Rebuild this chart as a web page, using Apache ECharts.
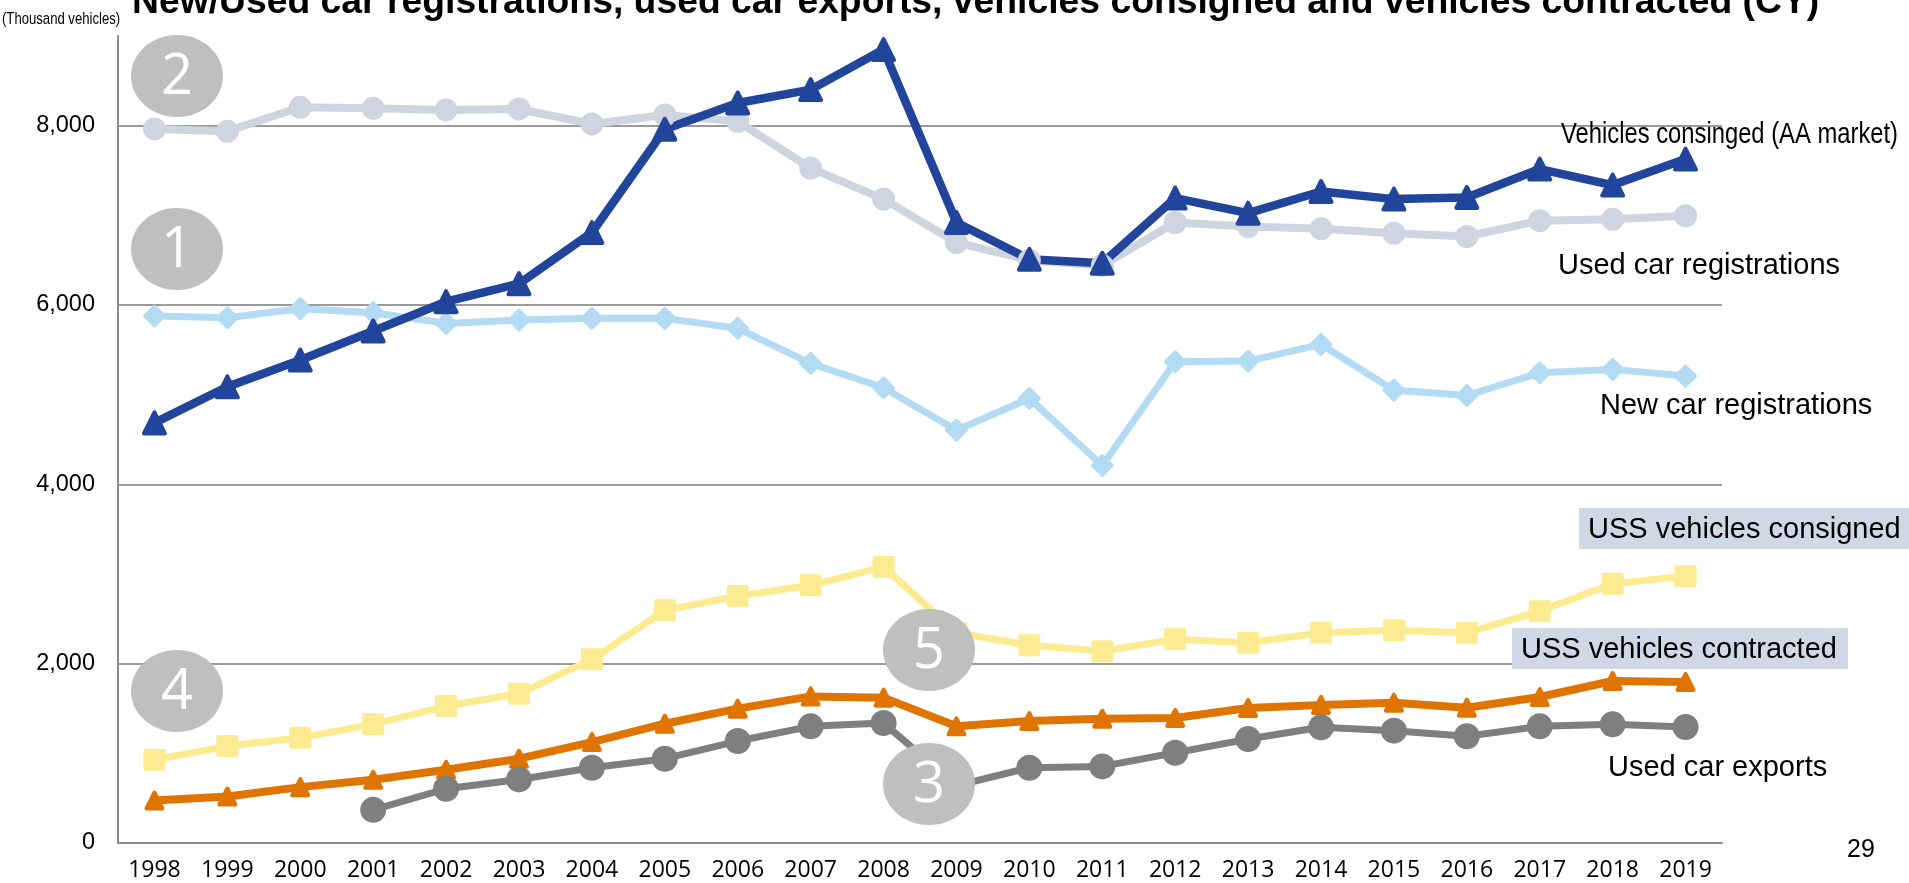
<!DOCTYPE html>
<html>
<head>
<meta charset="utf-8">
<title>New/Used car registrations</title>
<script src="https://cdn.jsdelivr.net/npm/echarts@6/dist/echarts.min.js"></script>
<style>
html, body { margin: 0; padding: 0; background: #fff; }
#chart { width: 1909px; height: 883px; }
</style>
</head>
<body>
<div id="chart"></div>
<script>
// thousand vehicles, calendar years
var years = ['1998', '1999', '2000', '2001', '2002', '2003', '2004', '2005', '2006', '2007', '2008',
	'2009', '2010', '2011', '2012', '2013', '2014', '2015', '2016', '2017', '2018', '2019'];

var aaConsigned = [4685, 5088, 5386, 5710, 6037, 6238, 6808, 7960, 8253, 8402, 8849,
	6920, 6510, 6466, 7192, 7024, 7266, 7181, 7199, 7516, 7337, 7628];
var usedRegistrations = [7963, 7937, 8205, 8194, 8175, 8186, 8019, 8119, 8048, 7527, 7181,
	6697, 6500, 6440, 6920, 6875, 6850, 6800, 6764, 6940, 6955, 6995];
var newRegistrations = [5877, 5858, 5959, 5914, 5795, 5832, 5851, 5851, 5740, 5349, 5077,
	4604, 4958, 4210, 5367, 5375, 5560, 5051, 4991, 5244, 5282, 5207];
var ussConsigned = [928, 1081, 1174, 1323, 1527, 1665, 2048, 2595, 2755, 2874, 3079,
	2344, 2205, 2138, 2272, 2234, 2345, 2372, 2346, 2584, 2892, 2974];
var ussContracted = [474, 519, 623, 705, 817, 940, 1126, 1330, 1498, 1635, 1621,
	1301, 1360, 1386, 1394, 1505, 1540, 1565, 1509, 1628, 1807, 1796];
var usedExports = ['-', '-', '-', 370, 605, 709, 839, 940, 1137, 1301, 1338,
	640, 839, 854, 1007, 1159, 1290, 1253, 1190, 1301, 1323, 1294];

var yTicks = [0, 2000, 4000, 6000, 8000];

var sans = '"Liberation Sans", Arial, sans-serif';
var gridGrey = '#9a9a9a';
var badgeGrey = '#bfbfbf';
var boxBlue = '#d0d7e6';

function lineSeries(name, data, color, symbol, size, width, border) {
	return {
		name : name,
		type : 'line',
		data : data,
		symbol : symbol,
		symbolSize : size,
		showSymbol : true,
		connectNulls : false,
		lineStyle : {
			color : color,
			width : width,
			cap : 'round',
			join : 'round'
		},
		itemStyle : {
			color : color,
			borderColor : color,
			borderWidth : border,
			borderJoin : 'round'
		},
		emphasis : { disabled : true }
	};
}

function badge(num, cx, cy) {
	return {
		type : 'group',
		z : 100,
		children : [ {
			type : 'ellipse',
			z : 100,
			shape : { cx : cx, cy : cy, rx : 46, ry : 41 },
			style : { fill : badgeGrey }
		}, {
			type : 'text',
			z : 101,
			x : cx,
			y : cy + 2,
			style : {
				text : num,
				fill : '#fff',
				font : '56px "Open Sans", sans-serif',
				align : 'center',
				verticalAlign : 'middle'
			}
		} ]
	};
}

function label(text, x, y, size, scaleX, font) {
	return {
		type : 'text',
		z : 100,
		x : x,
		y : y,
		scaleX : scaleX,
		style : {
			text : text,
			fill : '#000',
			font : (font || '') + ' ' + size + 'px ' + sans,
			align : 'left',
			verticalAlign : 'middle'
		}
	};
}

function box(x, y, w, h) {
	return {
		type : 'rect',
		z : 99,
		shape : { x : x, y : y, width : w, height : h },
		style : { fill : boxBlue }
	};
}

var option = {
	animation : false,
	backgroundColor : '#fff',
	grid : {
		left : 118,
		right : 187,
		top : 36,
		bottom : 40,
		outerBoundsMode : 'none'
	},
	xAxis : {
		type : 'category',
		data : years,
		boundaryGap : true,
		axisLine : { lineStyle : { color : '#8c8c8c', width : 2 } },
		axisTick : {
			inside : true,
			length : 7,
			lineStyle : { color : '#8c8c8c', width : 2 }
		},
		axisLabel : {
			color : '#000',
			fontFamily : '"Open Sans", sans-serif',
			fontSize : 23,
			margin : 16
		}
	},
	yAxis : {
		type : 'value',
		min : 0,
		max : 9000,
		interval : 2000,
		axisLine : { show : true, lineStyle : { color : '#8c8c8c', width : 2 } },
		axisTick : { show : false },
		axisLabel : {
			color : '#000',
			fontFamily : sans,
			fontSize : 23.5,
			margin : 23,
			formatter : function(v) {
				if (yTicks.indexOf(v) < 0) {
					return '';
				}
				return v.toLocaleString('en-US');
			}
		},
		splitLine : {
			show : true,
			showMinLine : false,
			showMaxLine : false,
			lineStyle : { color : gridGrey, width : 2 }
		}
	},
	series : [
		lineSeries('Used car registrations', usedRegistrations, '#cfd4e1', 'circle', 23, 8, 0),
		lineSeries('New car registrations', newRegistrations, '#b3dbf4', 'diamond', 20, 7, 3),
		lineSeries('Vehicles consinged (AA market)', aaConsigned, '#21459b', 'triangle', 21, 8.5, 4),
		lineSeries('USS vehicles consigned', ussConsigned, '#fdeb91', 'rect', 18, 7, 4),
		lineSeries('USS vehicles contracted', ussContracted, '#e07400', 'triangle', 16, 8, 4),
		lineSeries('Used car exports', usedExports, '#7f7f7f', 'circle', 26, 7, 0)
	],
	graphic : [
		label('New/Used car registrations, used car exports, vehicles consigned and vehicles contracted (CY)',
			132, 3, 37.3, 1, 'bold'),
		label('(Thousand vehicles)', 2, 20, 16, 0.82),
		badge('2', 177, 76),
		badge('1', 177, 249),
		badge('4', 177, 691),
		badge('5', 929, 650),
		badge('3', 929, 784),
		label('Vehicles consinged (AA market)', 1561, 135, 29, 0.82),
		label('Used car registrations', 1558, 266, 29, 1),
		label('New car registrations', 1600, 406, 29, 1),
		box(1579, 508, 330, 41),
		label('USS vehicles consigned', 1588, 530, 29, 1),
		box(1512, 628, 336, 41),
		label('USS vehicles contracted', 1521, 650, 29, 1),
		label('Used car exports', 1608, 768, 29, 1),
		label('29', 1847, 850, 25, 1)
	]
};

var graph = echarts.init(document.getElementById('chart'));
graph.setOption(option);
</script>
</body>
</html>
